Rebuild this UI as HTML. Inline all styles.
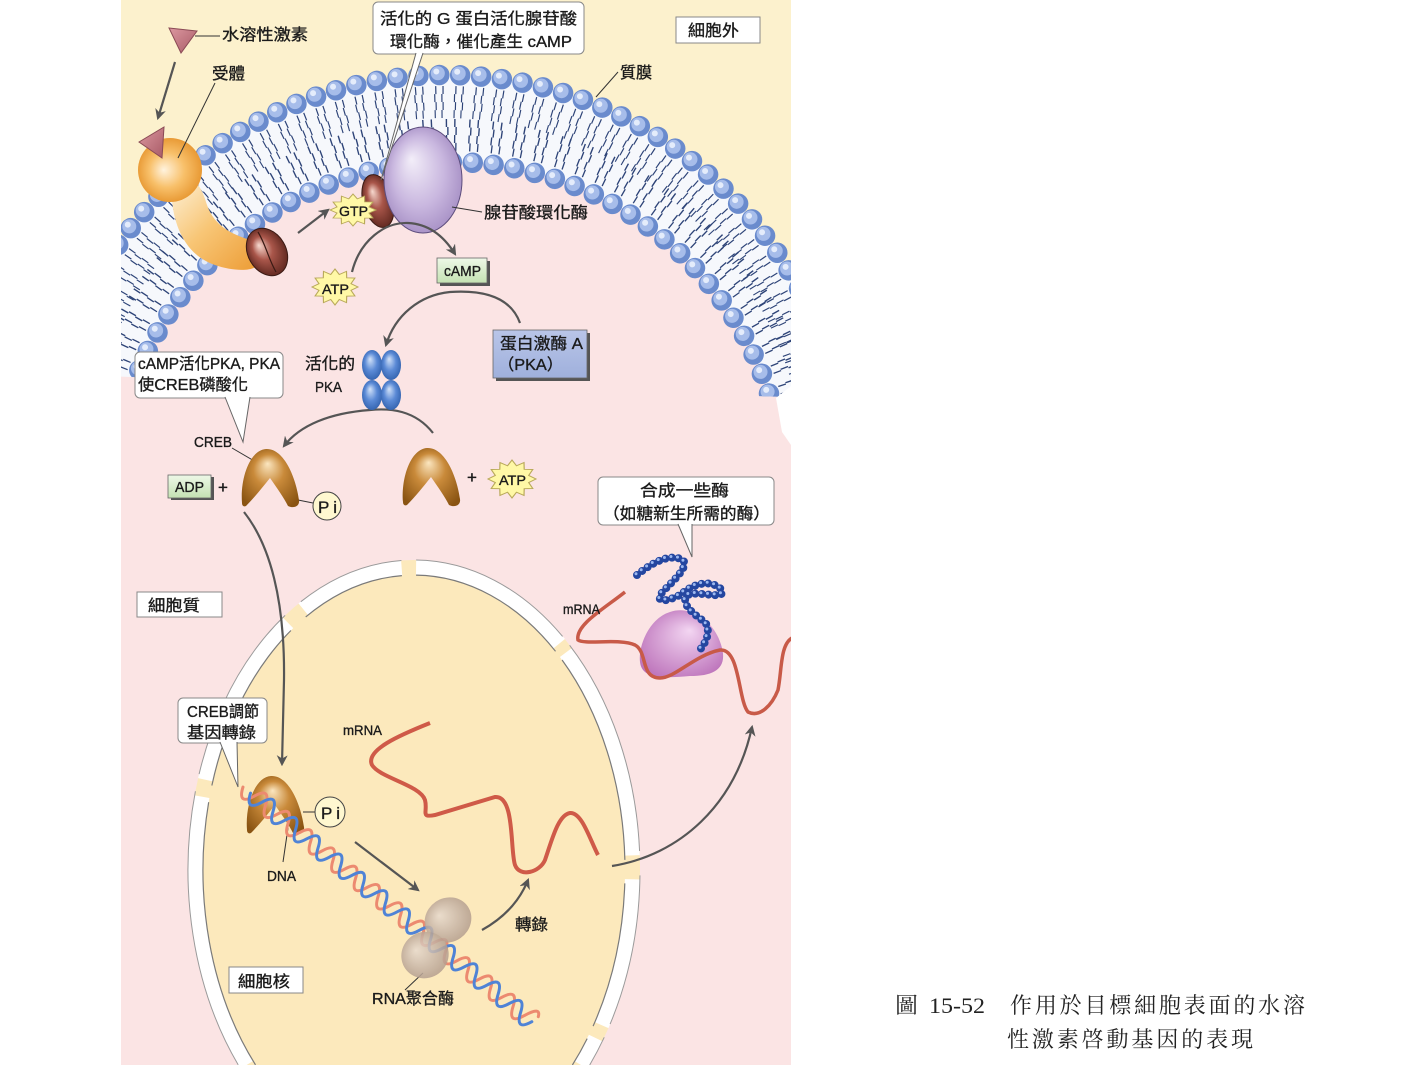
<!DOCTYPE html>
<html><head><meta charset="utf-8">
<style>
html,body{margin:0;padding:0;background:#fff;width:1417px;height:1065px;overflow:hidden;}
svg{display:block;}
.l{font-family:"Liberation Sans","Noto Sans CJK TC",sans-serif;font-size:16px;fill:#1b1b1b;stroke:#1b1b1b;stroke-width:0.35px;}
.c{font-family:"Liberation Serif","Noto Serif CJK SC",serif;font-size:22px;fill:#222;}
</style></head>
<body>
<svg id="s" width="1417" height="1065" viewBox="0 0 1417 1065" xmlns="http://www.w3.org/2000/svg">
<defs>
<clipPath id="fig"><rect x="121" y="0" width="670" height="1065"/></clipPath>
<clipPath id="innerclip"><polygon points="100,0 820,0 820,398 100,376"/></clipPath>
<radialGradient id="org" cx=".5" cy=".5" r=".55" fx=".4" fy=".5"><stop offset="0" stop-color="#fff3de"/><stop offset=".5" stop-color="#f8c06a"/><stop offset="1" stop-color="#e5922a"/></radialGradient>
<linearGradient id="orgb" x1="0" y1="0" x2="1" y2="1"><stop offset="0" stop-color="#fdf0d6"/><stop offset=".45" stop-color="#f8c676"/><stop offset="1" stop-color="#ec9a32"/></linearGradient>
<radialGradient id="brn" cx=".5" cy=".5" r=".55" fx=".4" fy=".3"><stop offset="0" stop-color="#f7d9cf"/><stop offset=".45" stop-color="#a9564a"/><stop offset="1" stop-color="#5a241c"/></radialGradient>
<radialGradient id="ac" cx=".5" cy=".5" r=".55" fx=".35" fy=".3"><stop offset="0" stop-color="#f3eef9"/><stop offset=".6" stop-color="#c9b7df"/><stop offset="1" stop-color="#a48dc3"/></radialGradient>
<radialGradient id="creb" cx=".5" cy=".5" r=".6" fx=".45" fy=".25"><stop offset="0" stop-color="#fbe6c0"/><stop offset=".45" stop-color="#c98a3a"/><stop offset="1" stop-color="#8a5412"/></radialGradient>
<radialGradient id="blu" cx=".5" cy=".5" r=".6" fx=".4" fy=".3"><stop offset="0" stop-color="#d3e3f9"/><stop offset=".5" stop-color="#5b8ad6"/><stop offset="1" stop-color="#2a5aa6"/></radialGradient>
<radialGradient id="rib" cx=".5" cy=".5" r=".6" fx=".6" fy=".3"><stop offset="0" stop-color="#f3d6f2"/><stop offset="1" stop-color="#bc72ba"/></radialGradient>
<radialGradient id="pol" cx=".5" cy=".5" r=".6" fx=".4" fy=".3"><stop offset="0" stop-color="#e8dbcf"/><stop offset="1" stop-color="#ad9686"/></radialGradient>
<linearGradient id="grn" x1="0" y1="0" x2="0" y2="1"><stop offset="0" stop-color="#eef8e8"/><stop offset="1" stop-color="#c4e2b2"/></linearGradient>
<linearGradient id="pkab" x1="0" y1="0" x2="0" y2="1"><stop offset="0" stop-color="#b9c5e8"/><stop offset="1" stop-color="#9fb0dc"/></linearGradient>
<linearGradient id="hor" x1="0" y1="0" x2="1" y2="1"><stop offset="0" stop-color="#dc98a0"/><stop offset="1" stop-color="#a85a66"/></linearGradient>
<marker id="ah" viewBox="0 0 10 10" refX="8" refY="5" markerWidth="11" markerHeight="11" markerUnits="userSpaceOnUse" orient="auto"><path d="M0,0 L10,5 L0,10 L3,5 Z" fill="#555"/></marker>
<path id="crebP" d="M0,55 C-2,30 8,2 24,1 C42,0 54,30 57,52 C58,58 52,61 46,58 C42,50 35,40 28,30 C20,40 12,50 4,58 C2,59 0,58 0,55 Z"/>
<polygon id="star" points="1,0 .695,.186 .866,.5 .509,.509 .5,.866 .186,.695 0,1 -.186,.695 -.5,.866 -.509,.509 -.866,.5 -.695,.186 -1,0 -.695,-.186 -.866,-.5 -.509,-.509 -.5,-.866 -.186,-.695 0,-1 .186,-.695 .5,-.866 .509,-.509 .866,-.5 .695,-.186"/>
</defs>

<rect x="0" y="0" width="1417" height="1065" fill="#ffffff"/>
<g clip-path="url(#fig)">
  <rect x="121" y="0" width="670" height="1065" fill="#fbe4e4"/>
  <rect x="121" y="0" width="670" height="620" fill="#fcf1cd"/>
  <ellipse cx="445" cy="490" rx="405" ry="415" fill="#f6f8fc"/>

  <!-- outer leaflet tails -->
  <g fill="none" stroke="#2e4478" stroke-width="8" stroke-dasharray="0.6 3 0.6 5.8">
    <path pathLength="1230" stroke-dashoffset="2.1" d="M835,490 A390,400 0 1,1 55,490 A390,400 0 1,1 835,490 Z"/>
    <path pathLength="1230" stroke-dashoffset="2.7" d="M827,490 A382,392 0 1,1 63,490 A382,392 0 1,1 827,490 Z"/>
    <path pathLength="1230" stroke-dashoffset="2.1" d="M819,490 A374,384 0 1,1 71,490 A374,384 0 1,1 819,490 Z"/>
    <path pathLength="1230" stroke-dashoffset="2.7" d="M811,490 A366,376 0 1,1 79,490 A366,376 0 1,1 811,490 Z"/>
  </g>
  <!-- outer leaflet beads -->
  <g fill="none" stroke-dasharray="0 10" stroke-linecap="round">
    <path pathLength="1230" stroke="#6a8bcd" stroke-width="20.5" d="M850,490 A405,415 0 1,1 40,490 A405,415 0 1,1 850,490 Z"/>
    <path pathLength="1230" stroke="#a7bdea" stroke-width="14" transform="translate(-1.5,-1.8)" d="M850,490 A405,415 0 1,1 40,490 A405,415 0 1,1 850,490 Z"/>
    <path pathLength="1230" stroke="#e4ecfb" stroke-width="6" transform="translate(-3,-3.5)" d="M850,490 A405,415 0 1,1 40,490 A405,415 0 1,1 850,490 Z"/>
  </g>

  <!-- inner (cytoplasmic) side -->
  <g transform="rotate(4 450 495)">
    <ellipse cx="450" cy="495" rx="335" ry="333" fill="#fbe4e4"/>
    <rect x="60" y="495" width="800" height="480" fill="#fbe4e4"/>
  </g>
  <polygon points="100,376 820,398 820,600 100,600" fill="#fbe4e4"/>
  <g clip-path="url(#innerclip)">
    <g transform="rotate(4 450 495)">
      <g fill="none" stroke="#2e4478" stroke-width="8" stroke-dasharray="0.6 3 0.6 5.8">
        <path pathLength="1000" stroke-dashoffset="2.1" d="M800,495 A350,348 0 1,1 100,495 A350,348 0 1,1 800,495 Z"/>
        <path pathLength="1000" stroke-dashoffset="2.7" d="M808,495 A358,356 0 1,1 92,495 A358,356 0 1,1 808,495 Z"/>
        <path pathLength="1000" stroke-dashoffset="2.1" d="M816,495 A366,364 0 1,1 84,495 A366,364 0 1,1 816,495 Z"/>
        <path pathLength="1000" stroke-dashoffset="2.7" d="M824,495 A374,372 0 1,1 76,495 A374,372 0 1,1 824,495 Z"/>
      </g>
      <g fill="none" stroke-dasharray="0 10" stroke-linecap="round">
        <path pathLength="1000" stroke="#6a8bcd" stroke-width="20.5" d="M785,495 A335,333 0 1,1 115,495 A335,333 0 1,1 785,495 Z"/>
        <path pathLength="1000" stroke="#a7bdea" stroke-width="14" transform="translate(-1.5,-1.8)" d="M785,495 A335,333 0 1,1 115,495 A335,333 0 1,1 785,495 Z"/>
        <path pathLength="1000" stroke="#e4ecfb" stroke-width="6" transform="translate(-3,-3.5)" d="M785,495 A335,333 0 1,1 115,495 A335,333 0 1,1 785,495 Z"/>
      </g>
    </g>
  </g>
  <polygon points="776,398 791,386 791,445 782,432" fill="#ffffff"/>

  <!-- nucleus -->
  <path d="M238.3,1065 A226,310 0 1,1 589.7,1065 Z" fill="#fce9bc"/>
  <g fill="none" stroke-dasharray="6.98 3.21 33.92 5.42 49.05 2.52 37.91 3.27 24.54 4.63 40.71 3.89 62.87 10">
    <path pathLength="278.92" stroke="#ffffff" stroke-width="15" d="M581,1065 A218.5,302.5 0 1,0 247,1065"/>
    <path pathLength="278.92" stroke="#9a9a9a" stroke-width="1" d="M589.7,1065 A226,310 0 1,0 238.3,1065"/>
    <path pathLength="278.92" stroke="#7a7a7a" stroke-width="1.2" d="M572.4,1065 A211,295 0 1,0 255.6,1065"/>
  </g>

  <!-- receptor -->
  <path d="M172,200 C174,225 185,255 215,265 C232,271 252,272 258,265 C266,257 262,245 250,240 C235,235 215,228 207,205 C204,195 200,185 195,183 Z" fill="url(#orgb)"/>
  <circle cx="170" cy="170" r="32" fill="url(#org)"/>
  <polygon points="139,142 164,127 162,158" fill="url(#hor)" stroke="#8a4a55" stroke-width="1"/>
  <ellipse cx="267" cy="252" rx="19" ry="25" transform="rotate(-30 267 252)" fill="url(#brn)" stroke="#3a1a14" stroke-width="1"/>
  <path d="M258,232 C266,245 268,258 276,272" fill="none" stroke="#3a1a14" stroke-width="1.2"/>
  <!-- G alpha + adenylyl cyclase -->
  <ellipse cx="378" cy="201" rx="15" ry="27" transform="rotate(-15 378 201)" fill="url(#brn)" stroke="#3a1a14" stroke-width="1"/>
  <ellipse cx="423" cy="180" rx="39" ry="53" fill="url(#ac)" stroke="#5d4d7d" stroke-width="1"/>

  <!-- stars -->
  <use href="#star" transform="translate(353,210) scale(23,16)" fill="#fff8a6" stroke="#b9a95a" stroke-width="0.05"/>
  <use href="#star" transform="translate(335,287) scale(23,18)" fill="#fff8a6" stroke="#b9a95a" stroke-width="0.05"/>
  <use href="#star" transform="translate(512,479) scale(24,19)" fill="#fff8a6" stroke="#b9a95a" stroke-width="0.05"/>

  <!-- arrows -->
  <g fill="none" stroke="#555" stroke-width="2.2">
    <path d="M175,62 L158,118" marker-end="url(#ah)"/>
    <path d="M298,233 L328,210" marker-end="url(#ah)"/>
    <path d="M352,272 C360,240 385,222 408,223 C430,224 445,238 455,254" marker-end="url(#ah)"/>
    <path d="M520,323 C510,295 480,290 450,292 C420,295 395,315 386,345" marker-end="url(#ah)"/>
    <path d="M433,433 C415,410 390,408 370,410 C330,413 300,425 284,446" marker-end="url(#ah)"/>
    <path d="M244,512 C270,545 285,600 284,680 L282,764" marker-end="url(#ah)"/>
    <path d="M355,842 L418,890" marker-end="url(#ah)"/>
    <path d="M482,930 C500,920 518,905 528,880" marker-end="url(#ah)"/>
    <path d="M612,866 C680,855 735,805 752,727" marker-end="url(#ah)"/>
  </g>

  <!-- thin pointer lines -->
  <g stroke="#333" stroke-width="1" fill="none">
    <path d="M195,36 L220,36"/>
    <path d="M215,83 L178,158"/>
    <path d="M618,72 L596,97"/>
    <path d="M452,207 L482,212"/>
    <path d="M232,448 L256,462"/>
    <path d="M298,500 L313,503"/>
    <path d="M303,812 L315,812"/>
    <path d="M283,862 L288,828"/>
    <path d="M405,990 L423,973"/>
  </g>

  <!-- cAMP box -->
  <rect x="440" y="261" width="50" height="25" fill="#555"/>
  <rect x="437" y="258" width="50" height="25" fill="url(#grn)" stroke="#666" stroke-width="0.8"/>
  <!-- PKA box -->
  <rect x="496" y="333" width="94" height="48" fill="#555"/>
  <rect x="493" y="330" width="94" height="48" fill="url(#pkab)" stroke="#666" stroke-width="0.8"/>

  <!-- activated PKA -->
  <ellipse cx="372" cy="395" rx="10" ry="15" fill="url(#blu)"/>
  <ellipse cx="391" cy="395" rx="10" ry="15" fill="url(#blu)"/>
  <ellipse cx="372" cy="365" rx="10" ry="15" fill="url(#blu)"/>
  <ellipse cx="391" cy="365" rx="10" ry="15" fill="url(#blu)"/>

  <!-- CREB -->
  <use href="#crebP" x="242" y="448" fill="url(#creb)"/>
  <use href="#crebP" x="403" y="447" fill="url(#creb)"/>
  <!-- ADP -->
  <rect x="171" y="477" width="43" height="23" fill="#555"/>
  <rect x="168" y="475" width="43" height="23" fill="url(#grn)" stroke="#666" stroke-width="0.8"/>
  <circle cx="327" cy="506" r="14" fill="#fff8d0" stroke="#444" stroke-width="1"/>

  <!-- ribosome, protein, cytoplasmic mRNA -->
  <path d="M670,612 C690,605 715,620 722,648 C727,668 715,676 690,676 C665,678 642,680 640,662 C638,645 650,618 670,612 Z" fill="url(#rib)"/>
  <path d="M625,592 C605,608 575,625 578,640 C585,645 620,638 635,645 C648,652 640,678 660,678 C675,678 695,655 720,650 C740,648 738,700 748,712 C760,718 772,705 778,690 C782,670 780,645 792,638" fill="none" stroke="#c85a48" stroke-width="3.5"/>
  <g fill="none" stroke-dasharray="0 6.6" stroke-linecap="round">
    <path stroke="#2446a0" stroke-width="8" d="M637,575 C648,566 668,552 683,560 C690,568 668,585 660,595 C657,604 670,600 680,595 C693,584 710,578 722,590 C725,600 705,592 690,594 C678,600 690,612 705,622 C712,632 705,645 697,653"/>
    <path stroke="#9cb8f0" stroke-width="3" transform="translate(-1,-1.2)" d="M637,575 C648,566 668,552 683,560 C690,568 668,585 660,595 C657,604 670,600 680,595 C693,584 710,578 722,590 C725,600 705,592 690,594 C678,600 690,612 705,622 C712,632 705,645 697,653"/>
  </g>

  <!-- nucleus content -->
  <use href="#crebP" x="247" y="775" fill="url(#creb)"/>
  <g transform="translate(243,787) rotate(39.1)" fill="none" stroke-width="3" stroke-linecap="round">
    <path stroke="#ec8a70" d="M0,0 Q7.25,18 14.5,0 T29,0 T43.5,0 T58,0 T72.5,0 T87,0 T101.5,0 T116,0 T130.5,0 T145,0 T159.5,0 T174,0 T188.5,0 T203,0 T217.5,0 T232,0 T246.5,0 T261,0 T275.5,0 T290,0 T304.5,0 T319,0 T333.5,0 T348,0 T362.5,0 T374,-8"/>
    <path stroke="#4f83d6" transform="translate(9.7,0)" d="M0,0 Q7.25,18 14.5,0 T29,0 T43.5,0 T58,0 T72.5,0 T87,0 T101.5,0 T116,0 T130.5,0 T145,0 T159.5,0 T174,0 T188.5,0 T203,0 T217.5,0 T232,0 T246.5,0 T261,0 T275.5,0 T290,0 T304.5,0 T319,0 T333.5,0 T348,0 T362.5,0"/>
  </g>
  <g opacity="0.85">
    <ellipse cx="448" cy="920" rx="24" ry="22" transform="rotate(-35 448 920)" fill="url(#pol)"/>
    <ellipse cx="425" cy="955" rx="24" ry="23" transform="rotate(-35 425 955)" fill="url(#pol)"/>
  </g>
  <circle cx="330" cy="812" r="15" fill="#fff8d0" stroke="#444" stroke-width="1"/>
  <path d="M430,723 C400,735 365,750 372,765 C380,778 420,785 425,800 C428,812 420,818 435,815 L495,797 C515,795 510,850 515,865 C520,878 540,872 545,860 C552,840 558,815 570,813 C582,812 590,840 598,855" fill="none" stroke="#cf5a48" stroke-width="4"/>
</g>

<!-- callout boxes -->
<g fill="#fff" stroke="#888" stroke-width="1">
  <rect x="373" y="2" width="211" height="52" rx="5"/>
  <rect x="676" y="17" width="84" height="26"/>
  <rect x="135" y="352" width="148" height="46" rx="5"/>
  <rect x="137" y="592" width="85" height="25"/>
  <rect x="598" y="477" width="176" height="48" rx="5"/>
  <rect x="178" y="698" width="89" height="45" rx="5"/>
  <rect x="229" y="967" width="74" height="26"/>
</g>
<g fill="#fff" stroke="#666" stroke-width="1">
  <path d="M416,53 L381,180 L423,53"/>
  <path d="M225,397 L243,442 L250,397"/>
  <path d="M678,524 L692,557 L692,524"/>
  <path d="M220,742 L238,787 L237,742"/>
</g>
<g fill="#fff">
  <rect x="417" y="51" width="5" height="3"/>
  <rect x="226" y="395" width="23" height="3"/>
  <rect x="679" y="522" width="12" height="3"/>
  <rect x="221" y="740" width="15" height="3"/>
</g>
<polygon points="169,28 197,31 181,53" fill="url(#hor)" stroke="#8a4a55" stroke-width="1"/>

<!-- labels -->
<g class="l">
  <text x="222" y="40" textLength="86" lengthAdjust="spacingAndGlyphs">水溶性激素</text>
  <text x="212" y="79" textLength="33" lengthAdjust="spacingAndGlyphs">受體</text>
  <text x="380" y="24" textLength="197" lengthAdjust="spacingAndGlyphs">活化的 G 蛋白活化腺苷酸</text>
  <text x="390" y="47" textLength="182" lengthAdjust="spacingAndGlyphs">環化酶，催化產生 cAMP</text>
  <text x="688" y="36" textLength="51" lengthAdjust="spacingAndGlyphs">細胞外</text>
  <text x="620" y="78" textLength="32" lengthAdjust="spacingAndGlyphs">質膜</text>
  <text x="339" y="216" font-size="14" textLength="29" lengthAdjust="spacingAndGlyphs">GTP</text>
  <text x="484" y="218" textLength="104" lengthAdjust="spacingAndGlyphs">腺苷酸環化酶</text>
  <text x="322" y="294" font-size="14" textLength="27" lengthAdjust="spacingAndGlyphs">ATP</text>
  <text x="444" y="276" font-size="15" textLength="37" lengthAdjust="spacingAndGlyphs">cAMP</text>
  <text x="500" y="349" textLength="83" lengthAdjust="spacingAndGlyphs">蛋白激酶 A</text>
  <text x="498" y="370" textLength="65" lengthAdjust="spacingAndGlyphs">（PKA）</text>
  <text x="305" y="369" textLength="50" lengthAdjust="spacingAndGlyphs">活化的</text>
  <text x="315" y="392" font-size="15" textLength="27" lengthAdjust="spacingAndGlyphs">PKA</text>
  <text x="138" y="369" textLength="142" lengthAdjust="spacingAndGlyphs">cAMP活化PKA, PKA</text>
  <text x="138" y="390" textLength="110" lengthAdjust="spacingAndGlyphs">使CREB磷酸化</text>
  <text x="194" y="447" font-size="15" textLength="38" lengthAdjust="spacingAndGlyphs">CREB</text>
  <text x="175" y="492" font-size="15" textLength="29" lengthAdjust="spacingAndGlyphs">ADP</text>
  <text x="218" y="493" font-size="17">+</text>
  <text x="467" y="483" font-size="17">+</text>
  <text x="318" y="513" font-size="17" textLength="19" lengthAdjust="spacing">Pi</text>
  <text x="499" y="485" font-size="14" textLength="27" lengthAdjust="spacingAndGlyphs">ATP</text>
  <text x="640" y="496" textLength="89" lengthAdjust="spacingAndGlyphs">合成一些酶</text>
  <text x="603" y="519" textLength="167" lengthAdjust="spacingAndGlyphs">（如糖新生所需的酶）</text>
  <text x="148" y="611" textLength="52" lengthAdjust="spacingAndGlyphs">細胞質</text>
  <text x="563" y="614" font-size="14" textLength="37" lengthAdjust="spacingAndGlyphs">mRNA</text>
  <text x="187" y="717" textLength="72" lengthAdjust="spacingAndGlyphs">CREB調節</text>
  <text x="187" y="738" textLength="69" lengthAdjust="spacingAndGlyphs">基因轉錄</text>
  <text x="343" y="735" font-size="14" textLength="39" lengthAdjust="spacingAndGlyphs">mRNA</text>
  <text x="321" y="819" font-size="17" textLength="19" lengthAdjust="spacing">Pi</text>
  <text x="267" y="881" font-size="15" textLength="29" lengthAdjust="spacingAndGlyphs">DNA</text>
  <text x="515" y="930" textLength="33" lengthAdjust="spacingAndGlyphs">轉錄</text>
  <text x="372" y="1004" textLength="82" lengthAdjust="spacingAndGlyphs">RNA聚合酶</text>
  <text x="238" y="987" textLength="52" lengthAdjust="spacingAndGlyphs">細胞核</text>
</g>

<!-- caption -->
<g class="c">
  <text x="895" y="1013" textLength="23" lengthAdjust="spacingAndGlyphs">圖</text>
  <text x="929" y="1013" textLength="56" lengthAdjust="spacingAndGlyphs">15-52</text>
  <text x="1010" y="1013" textLength="295" lengthAdjust="spacing">作用於目標細胞表面的水溶</text>
  <text x="1007" y="1047" textLength="246" lengthAdjust="spacing">性激素啓動基因的表現</text>
</g>
</svg>
</body></html>
